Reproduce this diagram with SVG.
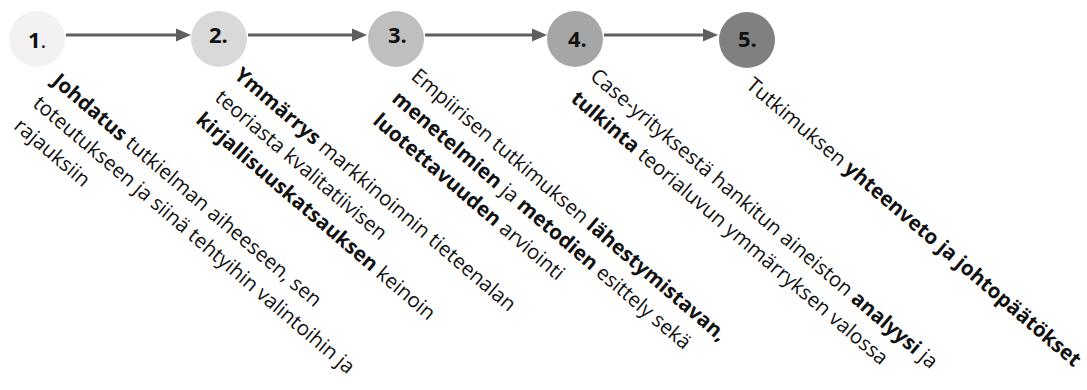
<svg xmlns="http://www.w3.org/2000/svg" width="1087" height="390" viewBox="0 0 1087 390">
<style>
.num{font-family:"Open Sans","Liberation Sans",sans-serif;font-weight:bold;font-size:22px;fill:#111}
.t{font-family:"Open Sans","Liberation Sans",sans-serif;font-size:20.5px;fill:#111}
.b{font-weight:bold}
.r{font-weight:normal}
.arr{stroke:#5f5f5f;stroke-width:3;fill:none}
.head{fill:#5f5f5f}
</style>
<rect width="1087" height="390" fill="#fff"/>
<g id="connectors">
<line class="arr" x1="66" y1="35" x2="178" y2="35"/><polygon class="head" points="176,28.5 191,35 176,41.5"/>
<line class="arr" x1="248" y1="35" x2="354" y2="35"/><polygon class="head" points="352,28.5 367,35 352,41.5"/>
<line class="arr" x1="425" y1="35" x2="534" y2="35"/><polygon class="head" points="532,28.5 547,35 532,41.5"/>
<line class="arr" x1="604" y1="35" x2="705" y2="35"/><polygon class="head" points="703,28.5 718,35 703,41.5"/>
</g>
<g id="node1">
<circle cx="37" cy="39" r="28" fill="#f2f2f2"/>
<text class="num" x="28" y="48">1<tspan class="r">.</tspan></text>
<text class="t" transform="translate(51,83) rotate(40.5)"><tspan x="0" y="0"><tspan class="b">Johdatus</tspan> tutkielman aiheeseen, sen</tspan><tspan x="0" y="29.5">toteutukseen ja siinä tehtyihin valintoihin ja</tspan><tspan x="0" y="59">rajauksiin</tspan></text>
</g>
<g id="node2">
<circle cx="219" cy="39" r="28" fill="#d9d9d9"/>
<text class="num" x="209" y="43">2.</text>
<text class="t" transform="translate(233,77) rotate(40.5)"><tspan x="0" y="0"><tspan class="b">Ymmärrys</tspan> markkinoinnin tieteenalan</tspan><tspan x="0" y="29.5">teoriasta kvalitatiivisen</tspan><tspan x="0" y="59"><tspan class="b">kirjallisuuskatsauksen</tspan> keinoin</tspan></text>
</g>
<g id="node3">
<circle cx="396" cy="39" r="28" fill="#bfbfbf"/>
<text class="num" x="388" y="43">3.</text>
<text class="t" transform="translate(410,78) rotate(40.5)"><tspan x="0" y="0">Empiirisen tutkimuksen <tspan class="b">lähestymistavan,</tspan></tspan><tspan x="0" y="29.5"><tspan class="b">menetelmien</tspan> ja <tspan class="b">metodien</tspan> esittely sekä</tspan><tspan x="0" y="59"><tspan class="b">luotettavuuden</tspan> arviointi</tspan></text>
</g>
<g id="node4">
<circle cx="575" cy="39" r="28" fill="#a6a6a6"/>
<text class="num" x="568" y="47">4.</text>
<text class="t" transform="translate(589,78) rotate(40.5)"><tspan x="0" y="0">Case-yrityksestä hankitun aineiston <tspan class="b">analyysi</tspan> ja</tspan><tspan x="0" y="29.5"><tspan class="b">tulkinta</tspan> teorialuvun ymmärryksen valossa</tspan></text>
</g>
<g id="node5">
<circle cx="747" cy="40" r="28" fill="#808080"/>
<text class="num" x="738" y="47">5.</text>
<text class="t" transform="translate(745,87) rotate(40.5)">Tutkimuksen <tspan class="b">yhteenveto ja johtopäätökset</tspan></text>
</g>
</svg>
